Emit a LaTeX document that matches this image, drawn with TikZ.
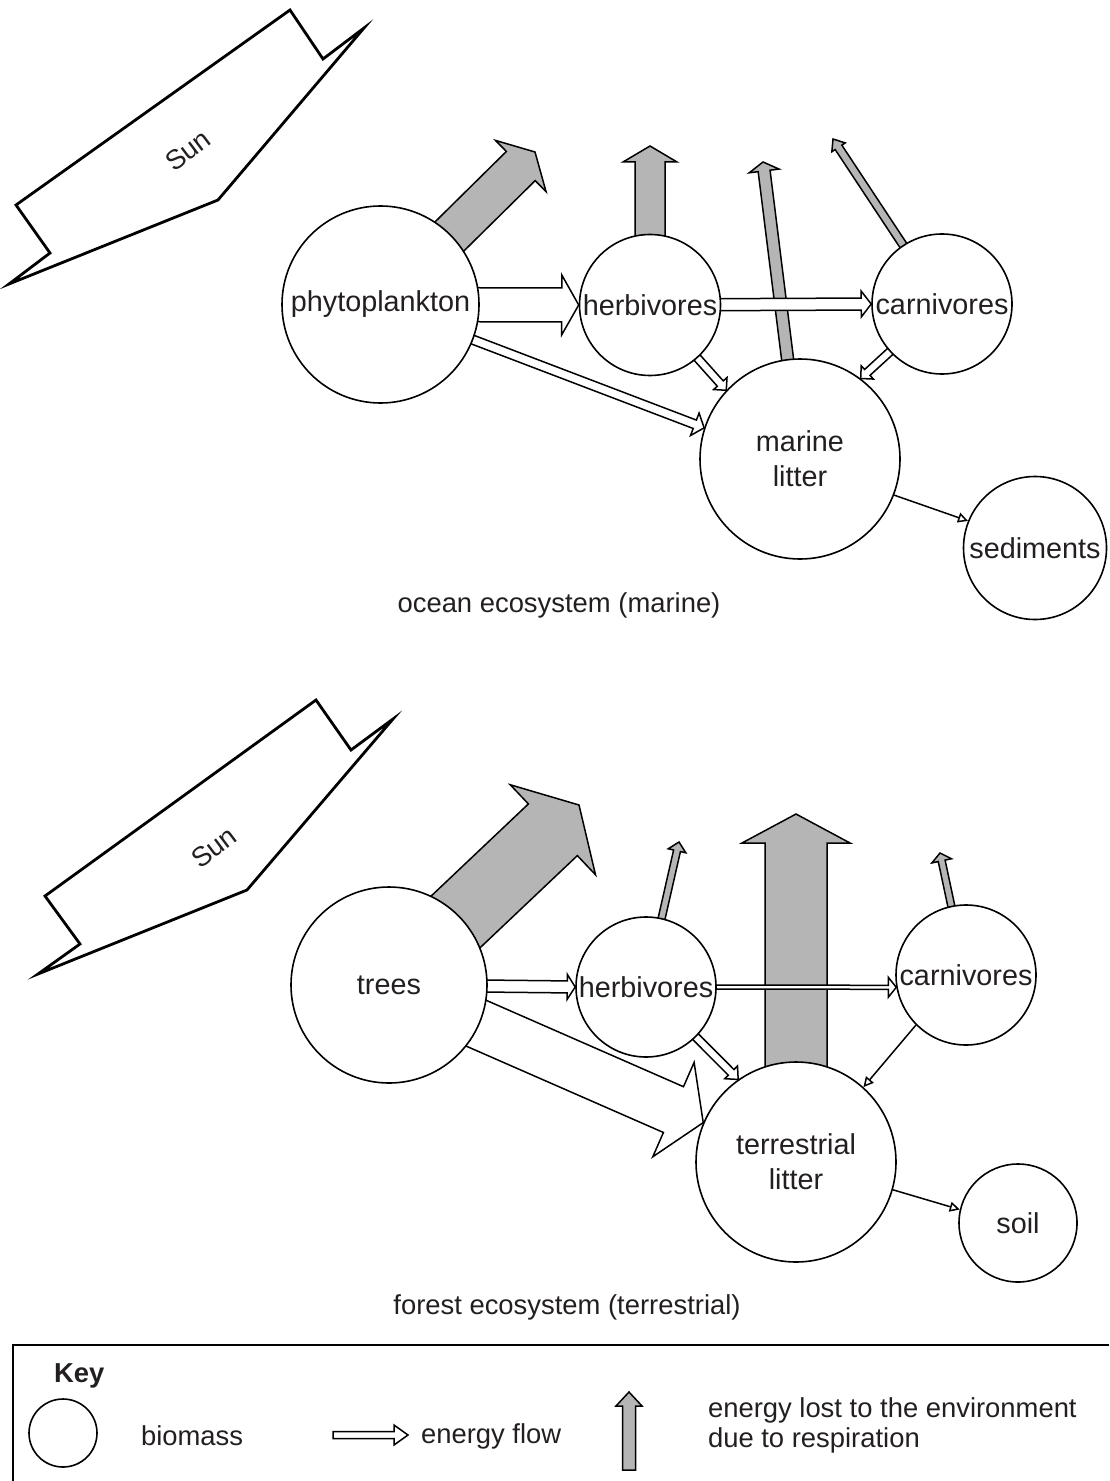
\documentclass[tikz,border=0pt]{standalone}
\usepackage{fontspec}
\setmainfont{Liberation Sans}
\usetikzlibrary{calc,arrows.meta,backgrounds}

\definecolor{ink}{HTML}{231F20}
\definecolor{respgray}{gray}{0.71}

\tikzset{
  biomass/.style={circle,draw,fill=white,line width=0.8pt,inner sep=0pt,align=center,
    font=\fontsize{14.4}{17.5}\selectfont},
  flow/.style={draw,fill=white,line width=0.75pt},
  resp/.style={draw,fill=respgray,line width=0.75pt},
  litline/.style={draw,line width=0.75pt,-{Triangle[open,length=5pt,width=5pt]}},
  sunshape/.style={draw,line width=1.4pt,line join=miter}
}

% block arrow: style, from, to, shaft half width, head half width, head length
\newcommand{\blockarrow}[6][flow]{%
  \coordinate (ba-s) at #2;
  \coordinate (ba-e) at #3;
  \coordinate (ba-m) at ($(ba-e)!#6!(ba-s)$);
  \path[#1] ($(ba-s)!#4!90:(ba-e)$) -- ($(ba-m)!#4!90:(ba-e)$)
    -- ($(ba-m)!#5!90:(ba-e)$) -- (ba-e) -- ($(ba-m)!#5!-90:(ba-e)$)
    -- ($(ba-m)!#4!-90:(ba-e)$) -- ($(ba-s)!#4!-90:(ba-e)$) -- cycle;
}

\begin{document}
\begin{tikzpicture}[x=0.5pt,y=-0.5pt,text=ink,font=\fontsize{13.7}{17.5}\selectfont]
  \useasboundingbox (0,0) rectangle (1109,1481);
  % ocean ecosystem
  \begin{scope}
    \draw[sunshape] (290,10) -- (323,59) -- (364,28) -- (218,200)
      -- (9,284) -- (50,253) -- (16,205) -- cycle;
    \node[rotate=37] (sunT) at (188,150) {Sun};
    \begin{scope}[every node/.style={biomass}]
      \node[minimum size=98.5pt] (phyto) at (380.5,304.5) {phytoplankton};
      \node[minimum size=70.5pt] (herbT) at (650,305) {herbivores};
      \node[minimum size=70pt] (carnT) at (942,304) {carnivores};
      \node[minimum size=100pt] (litterT) at (800,459) {marine\\litter};
      \node[minimum size=71.5pt] (sed) at (1035,548) {sediments};
    \end{scope}
    \coordinate (phytoR) at (535,152);
    \coordinate (herbTR) at (650,146);
    \coordinate (litterTR) at (763,162);
    \coordinate (carnTR) at (833,139);
    \begin{scope}[on background layer]
      \blockarrow[resp]{(phyto)}{(phytoR)}{10.25pt}{18pt}{10pt}
      \blockarrow[resp]{(herbT)}{(herbTR)}{7.5pt}{13.5pt}{8pt}
      \blockarrow[resp]{(litterT)}{(litterTR)}{3pt}{7.5pt}{4.5pt}
      \blockarrow[resp]{(carnT)}{(carnTR)}{2pt}{4pt}{5pt}
      \blockarrow{(phyto)}{(herbT.west)}{8.5pt}{15pt}{8.5pt}
      \blockarrow{(herbT)}{(carnT.west)}{3pt}{6.5pt}{5pt}
      \blockarrow{(phyto)}{(litterT.162)}{2.25pt}{6pt}{5pt}
      \blockarrow{(herbT)}{(litterT.137)}{2pt}{4.5pt}{4.5pt}
      \blockarrow{(carnT)}{(litterT.53)}{2pt}{4.5pt}{4.5pt}
    \end{scope}
    \draw[litline] (litterT.-21) -- (sed.158);
    \node (oceanlbl) at (559,605) {ocean ecosystem (marine)};
  \end{scope}
  % forest ecosystem
  \begin{scope}
    \draw[sunshape] (316,700) -- (351,750) -- (393,719) -- (247,890)
      -- (38,974) -- (80,944) -- (45,896) -- cycle;
    \node[rotate=37] (sunB) at (214,847) {Sun};
    \begin{scope}[every node/.style={biomass}]
      \node[minimum size=98pt] (trees) at (389,985) {trees};
      \node[minimum size=70pt] (herbB) at (646,987) {herbivores};
      \node[minimum size=70pt] (carnB) at (966,975) {carnivores};
      \node[minimum size=100pt] (litterB) at (796,1162) {terrestrial\\litter};
      \node[minimum size=59pt] (soil) at (1018,1223) {soil};
    \end{scope}
    \coordinate (treesR) at (579,805);
    \coordinate (herbBR) at (679,842);
    \coordinate (litterBR) at (796,814);
    \coordinate (carnBR) at (940,853);
    \begin{scope}[on background layer]
      \blockarrow[resp]{(trees)}{(treesR)}{17.8pt}{31pt}{18pt}
      \blockarrow[resp]{(herbB)}{(herbBR)}{1.75pt}{4.5pt}{4.5pt}
      \blockarrow[resp]{(litterB)}{(litterBR)}{15.5pt}{27pt}{14.5pt}
      \blockarrow[resp]{(carnB)}{(carnBR)}{1.75pt}{5pt}{4pt}
      \blockarrow{(trees)}{(herbB.west)}{3pt}{6.25pt}{4pt}
      \blockarrow{(herbB)}{(carnB.190)}{1pt}{5pt}{4pt}
      \blockarrow{(herbB)}{(litterB.125)}{2pt}{4.5pt}{5pt}
      \blockarrow{(trees)}{(litterB.157)}{12.5pt}{25.75pt}{16.25pt}
    \end{scope}
    \draw[litline] (carnB.225) -- (litterB.48);
    \draw[litline] (litterB.-16) -- (soil.167);
    \node (forestlbl) at (567,1307) {forest ecosystem (terrestrial)};
  \end{scope}
  % key
  \begin{scope}
    \draw[line width=1pt] (1109,1345) -- (13,1345) -- (13,1481);
    \node[anchor=base west,font=\fontsize{13.7}{17.5}\selectfont\bfseries] (keylbl) at (47,1382) {Key};
    \node[circle,draw,line width=0.8pt,minimum width=33pt,minimum height=34pt,
      inner sep=0pt] (keycirc) at (63,1433) {};
    \node[anchor=west] (keybio) at (134,1436) {biomass};
    \coordinate (flowA) at (333,1435);
    \coordinate (flowB) at (408,1435);
    \blockarrow{(flowA)}{(flowB)}{1.75pt}{5pt}{7pt}
    \node[anchor=west] (keyflow) at (414,1436) {energy flow};
    \coordinate (respA) at (629,1470);
    \coordinate (respB) at (629,1392);
    \blockarrow[resp]{(respA)}{(respB)}{3.25pt}{6.5pt}{7pt}
    \node[anchor=west,align=left,font=\fontsize{13.7}{15}\selectfont] (keyresp) at (701,1425)
      {energy lost to the environment\\due to respiration};
  \end{scope}
\end{tikzpicture}
\end{document}
